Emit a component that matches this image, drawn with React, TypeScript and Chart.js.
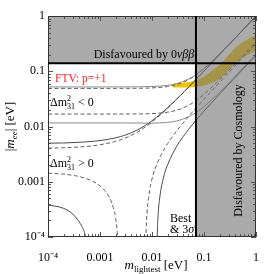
import React, { useEffect, useRef } from 'react';
import { Chart, registerables } from 'chart.js';

Chart.register(...registerables);

// ---------- axes ----------
const decadeValues = [1e-4, 1e-3, 1e-2, 1e-1, 1];
const decadeLabels = ['10⁻⁴', '0.001', '0.01', '0.1', '1'];
const minorSteps = [2, 3, 4, 5, 6, 7, 8, 9];

// ---------- excluded regions ----------
const cosmologyLimit = 0.07; // m_lightest [eV]
const doubleBetaLimit = 0.14; // |m_ee| [eV]

// ---------- inverted ordering (Δm²31 < 0) ----------
const ihMass = [1e-4, 1e-3, 3e-3, 0.01, 0.02, 0.03, 0.05, 0.07, 0.1, 0.2, 0.5, 1];
const ihMaxBest = [0.049, 0.04901, 0.04909, 0.05, 0.0529, 0.0574, 0.07, 0.0854, 0.1114, 0.206, 0.5024, 1.0];
const ihMax3s = [0.052, 0.05201, 0.05209, 0.0529, 0.0557, 0.06, 0.0721, 0.0872, 0.1127, 0.2066, 0.5027, 1.0];
const ihMinBest = [0.0168, 0.0168, 0.01684, 0.01715, 0.01815, 0.0197, 0.024, 0.0293, 0.0382, 0.0707, 0.172, 0.343];
const ihMin3s = [0.0116, 0.0116, 0.0116, 0.0115, 0.0119, 0.0126, 0.0149, 0.0179, 0.0229, 0.0418, 0.1016, 0.202];

// ---------- normal ordering (Δm²31 > 0) ----------
const nhMass = [1e-4, 2e-4, 5e-4, 1e-3, 2e-3, 3e-3, 5e-3, 7e-3, 0.01, 0.015, 0.02, 0.03, 0.05, 0.07, 0.1, 0.2, 0.5, 1];
const nhMaxBest = [0.00406, 0.00413, 0.00433, 0.00467, 0.00539, 0.00613, 0.00772, 0.0094, 0.01204, 0.01666, 0.02142, 0.0311, 0.0508, 0.0706, 0.1004, 0.2, 0.5, 1.0];
const nhMax3s = [0.00498, 0.00504, 0.00524, 0.00556, 0.00624, 0.00694, 0.00848, 0.0101, 0.0127, 0.01722, 0.0219, 0.0315, 0.0511, 0.0708, 0.1006, 0.2003, 0.5, 1.0];

const nhMinBestLoMass = [1e-4, 2e-4, 5e-4, 1e-3, 1.5e-3, 1.8e-3, 2e-3, 2.1e-3, 2.2e-3];
const nhMinBestLo = [0.00143, 0.00137, 0.00117, 0.00084, 0.00053, 0.00034, 0.00022, 0.00015, 0.00009];
const nhMinBestHiMass = [0.0076, 0.0077, 0.008, 0.009, 0.01, 0.0114, 0.015, 0.02, 0.03, 0.05, 0.07, 0.1, 0.2, 0.5, 1];
const nhMinBestHi = [0.00009, 0.000133, 0.000267, 0.00069, 0.00112, 0.00169, 0.00308, 0.0049, 0.00838, 0.01504, 0.02155, 0.0312, 0.0629, 0.158, 0.316];

const nhMin3sLoMass = [1e-4, 2e-4, 3e-4, 3.8e-4, 4.5e-4, 4.9e-4, 5.2e-4, 5.3e-4];
const nhMin3sLo = [0.00038, 0.00033, 0.00026, 0.0002, 0.000155, 0.00013, 0.000105, 0.00009];
const nhMin3sHiMass = [0.0125, 0.0126, 0.013, 0.014, 0.0172, 0.02, 0.03, 0.05, 0.07, 0.1, 0.2, 0.5, 1];
const nhMin3sHi = [0.00007, 0.000103, 0.00022, 0.00049, 0.00134, 0.00204, 0.00441, 0.00875, 0.0129, 0.01894, 0.0387, 0.0974, 0.195];

// ---------- FTV p=+1 band ----------
const ftvMass = [0.025, 0.04, 0.07, 0.1, 0.2, 0.45, 1.0];
const ftvHigh = [0.059, 0.062, 0.068, 0.08, 0.133, 0.29, 0.46];
const ftvLow = [0.051, 0.051, 0.052, 0.055, 0.073, 0.155, 0.235];

const SERIF = "'Liberation Serif', 'Times New Roman', serif";

const pts = (xs: number[], ys: number[]) => xs.map((x, i) => ({ x, y: ys[i] }));

type Part = { t: string; f: string; dy?: number; adv?: boolean; color?: string };

function partsWidth(ctx: CanvasRenderingContext2D, parts: Part[]) {
  let w = 0;
  for (const p of parts) {
    ctx.font = p.f;
    if (p.adv !== false) w += ctx.measureText(p.t).width;
  }
  return w;
}

function drawParts(ctx: CanvasRenderingContext2D, parts: Part[], x: number, y: number, align: 'left' | 'center', color = '#000') {
  let cx = align === 'center' ? x - partsWidth(ctx, parts) / 2 : x;
  ctx.textAlign = 'left';
  ctx.textBaseline = 'alphabetic';
  for (const p of parts) {
    ctx.font = p.f;
    ctx.fillStyle = p.color || color;
    ctx.fillText(p.t, cx, y + (p.dy || 0));
    if (p.adv !== false) cx += ctx.measureText(p.t).width;
  }
}

const f = (size: number, italic = false) => `${italic ? 'italic ' : ''}${size}px ${SERIF}`;

const overlayPlugin = {
  id: 'overlay',
  afterDatasetsDraw(chart: any) {
    const { ctx, chartArea: a, scales } = chart;
    const xs = scales.x;
    const ys = scales.y;
    const cx = xs.getPixelForValue(cosmologyLimit);
    const by = ys.getPixelForValue(doubleBetaLimit);
    ctx.save();
    // excluded regions
    ctx.fillStyle = 'rgba(118,118,118,0.62)';
    ctx.beginPath();
    ctx.moveTo(a.left, a.top);
    ctx.lineTo(a.right, a.top);
    ctx.lineTo(a.right, a.bottom);
    ctx.lineTo(cx, a.bottom);
    ctx.lineTo(cx, by);
    ctx.lineTo(a.left, by);
    ctx.closePath();
    ctx.fill();

    // inner tick marks
    ctx.strokeStyle = '#555';
    ctx.lineWidth = 1;
    ctx.beginPath();
    for (const t of xs.ticks) {
      const px = Math.round(xs.getPixelForValue(t.value)) + 0.5;
      const len = t.major ? 5 : 3;
      ctx.moveTo(px, a.bottom);
      ctx.lineTo(px, a.bottom - len);
      ctx.moveTo(px, a.top);
      ctx.lineTo(px, a.top + len);
    }
    for (const t of ys.ticks) {
      const py = Math.round(ys.getPixelForValue(t.value)) + 0.5;
      const len = t.major ? 5 : 3;
      ctx.moveTo(a.left, py);
      ctx.lineTo(a.left + len, py);
      ctx.moveTo(a.right, py);
      ctx.lineTo(a.right - len, py);
    }
    ctx.stroke();

    // frame
    ctx.strokeStyle = '#333';
    ctx.lineWidth = 1;
    ctx.strokeRect(a.left + 0.5, a.top + 0.5, a.right - a.left - 1, a.bottom - a.top - 1);

    // limit lines
    ctx.strokeStyle = '#000';
    ctx.lineWidth = 2;
    ctx.beginPath();
    ctx.moveTo(a.left, by);
    ctx.lineTo(a.right, by);
    ctx.moveTo(cx, a.top);
    ctx.lineTo(cx, a.bottom);
    ctx.stroke();

    // region labels
    drawParts(ctx, [
      { t: 'Disfavoured by 0', f: f(12) },
      { t: 'νββ', f: f(12, true) },
    ], a.left + 96, by - 5, 'center');

    ctx.save();
    ctx.translate(cx + 46, (a.top + a.bottom) / 2 + 24);
    ctx.rotate(-Math.PI / 2);
    drawParts(ctx, [{ t: 'Disfavoured by Cosmology', f: f(12) }], 0, 0, 'center');
    ctx.restore();

    drawParts(ctx, [{ t: 'FTV: p=+1', f: f(11.5) }], a.left + 7, a.top + 65.5, 'left', '#ff1a1a');

    const dm = (sign: string): Part[] => [
      { t: 'Δm', f: f(12) },
      { t: '2', f: f(8), dy: -5, adv: false },
      { t: '31', f: f(8), dy: 3 },
      { t: ' ' + sign + ' 0', f: f(12) },
    ];
    drawParts(ctx, dm('<'), a.left + 2, a.top + 90, 'left');
    drawParts(ctx, dm('>'), a.left + 2, a.top + 151, 'left');

    drawParts(ctx, [{ t: 'Best', f: f(12) }], a.left + 122, a.top + 206, 'left');
    drawParts(ctx, [{ t: '& 3', f: f(12) }, { t: 'σ', f: f(12, true) }], a.left + 122, a.top + 217, 'left');

    // axis titles
    drawParts(ctx, [
      { t: 'm', f: f(13, true) },
      { t: 'lightest', f: f(9), dy: 3 },
      { t: ' [eV]', f: f(13) },
    ], (a.left + a.right) / 2 + 4, a.bottom + 32, 'center');

    ctx.save();
    ctx.translate(14, (a.top + a.bottom) / 2);
    ctx.rotate(-Math.PI / 2);
    drawParts(ctx, [
      { t: '|', f: f(13) },
      { t: 'm', f: f(13, true) },
      { t: 'ee', f: f(9, true), dy: 3 },
      { t: '| [eV]', f: f(13) },
    ], 0, 0, 'center');
    ctx.restore();

    ctx.restore();
  },
};

const buildTicks = (scale: any) => {
  const ticks: any[] = [];
  decadeValues.forEach((d, i) => {
    ticks.push({ value: d, major: true });
    if (i < decadeValues.length - 1) minorSteps.forEach((s) => ticks.push({ value: d * s, major: false }));
  });
  scale.ticks = ticks;
};

const labelFor = (value: number) => {
  const k = decadeValues.findIndex((d) => Math.abs(d - value) < d * 1e-6);
  return k >= 0 ? decadeLabels[k] : '';
};

const tickFont = { family: SERIF, size: 12 };

export default function App() {
  const ref = useRef<HTMLCanvasElement>(null);
  useEffect(() => {
    document.body.style.margin = '0';
    const solidNH = { borderColor: '#4a4a4a', borderWidth: 1 };
    const solidIH = { borderColor: '#8c8c8c', borderWidth: 1 };
    const dashed = { borderColor: '#606060', borderWidth: 1, borderDash: [4, 2.5] };
    const common = { pointRadius: 0, fill: false, cubicInterpolationMode: 'monotone' as const };
    const chart = new Chart(ref.current!, {
      type: 'line',
      data: {
        datasets: [
          { data: pts(nhMass, nhMax3s), ...common, ...solidNH },
          { data: pts(nhMass, nhMaxBest), ...common, ...dashed },
          { data: pts(nhMin3sLoMass, nhMin3sLo), ...common, ...solidNH },
          { data: pts(nhMin3sHiMass, nhMin3sHi), ...common, ...solidNH },
          { data: pts(nhMinBestLoMass, nhMinBestLo), ...common, ...dashed },
          { data: pts(nhMinBestHiMass, nhMinBestHi), ...common, ...dashed },
          { data: pts(ihMass, ihMax3s), ...common, ...solidIH },
          { data: pts(ihMass, ihMaxBest), ...common, ...dashed },
          { data: pts(ihMass, ihMin3s), ...common, ...solidIH },
          { data: pts(ihMass, ihMinBest), ...common, ...dashed },
          { data: pts(ftvMass, ftvLow), pointRadius: 0, borderWidth: 0, fill: false, cubicInterpolationMode: 'monotone' },
          { data: pts(ftvMass, ftvHigh), pointRadius: 0, borderWidth: 0, fill: '-1', backgroundColor: 'rgb(245,196,0)', cubicInterpolationMode: 'monotone' },
        ] as any,
      },
      options: {
        animation: false,
        responsive: false,
        devicePixelRatio: 1,
        parsing: false as any,
        layout: { padding: { left: 8, right: 4, top: 16, bottom: 0 } },
        plugins: { legend: { display: false }, tooltip: { enabled: false }, title: { display: false } },
        scales: {
          x: {
            type: 'logarithmic',
            min: 1e-4,
            max: 1,
            grid: { display: false, drawTicks: false },
            border: { display: false },
            afterBuildTicks: buildTicks,
            afterFit: (s: any) => { s.height = 37; },
            ticks: {
              autoSkip: false,
              maxRotation: 0,
              minRotation: 0,
              padding: 14,
              color: '#000',
              font: tickFont,
              callback: (v: any) => labelFor(Number(v)),
            },
          },
          y: {
            type: 'logarithmic',
            min: 1e-4,
            max: 1,
            grid: { display: false, drawTicks: false },
            border: { display: false },
            afterBuildTicks: buildTicks,
            afterFit: (s: any) => { s.width = 40; },
            ticks: {
              autoSkip: false,
              padding: 3,
              color: '#000',
              font: tickFont,
              callback: (v: any) => labelFor(Number(v)),
            },
          },
        },
      } as any,
      plugins: [overlayPlugin],
    });
    return () => chart.destroy();
  }, []);
  return (
    <div style={{ position: 'absolute', left: 0, top: 0, width: 273, height: 274 }}>
      <canvas ref={ref} width={273} height={274} style={{ display: 'block', width: 273, height: 274 }} />
    </div>
  );
}
